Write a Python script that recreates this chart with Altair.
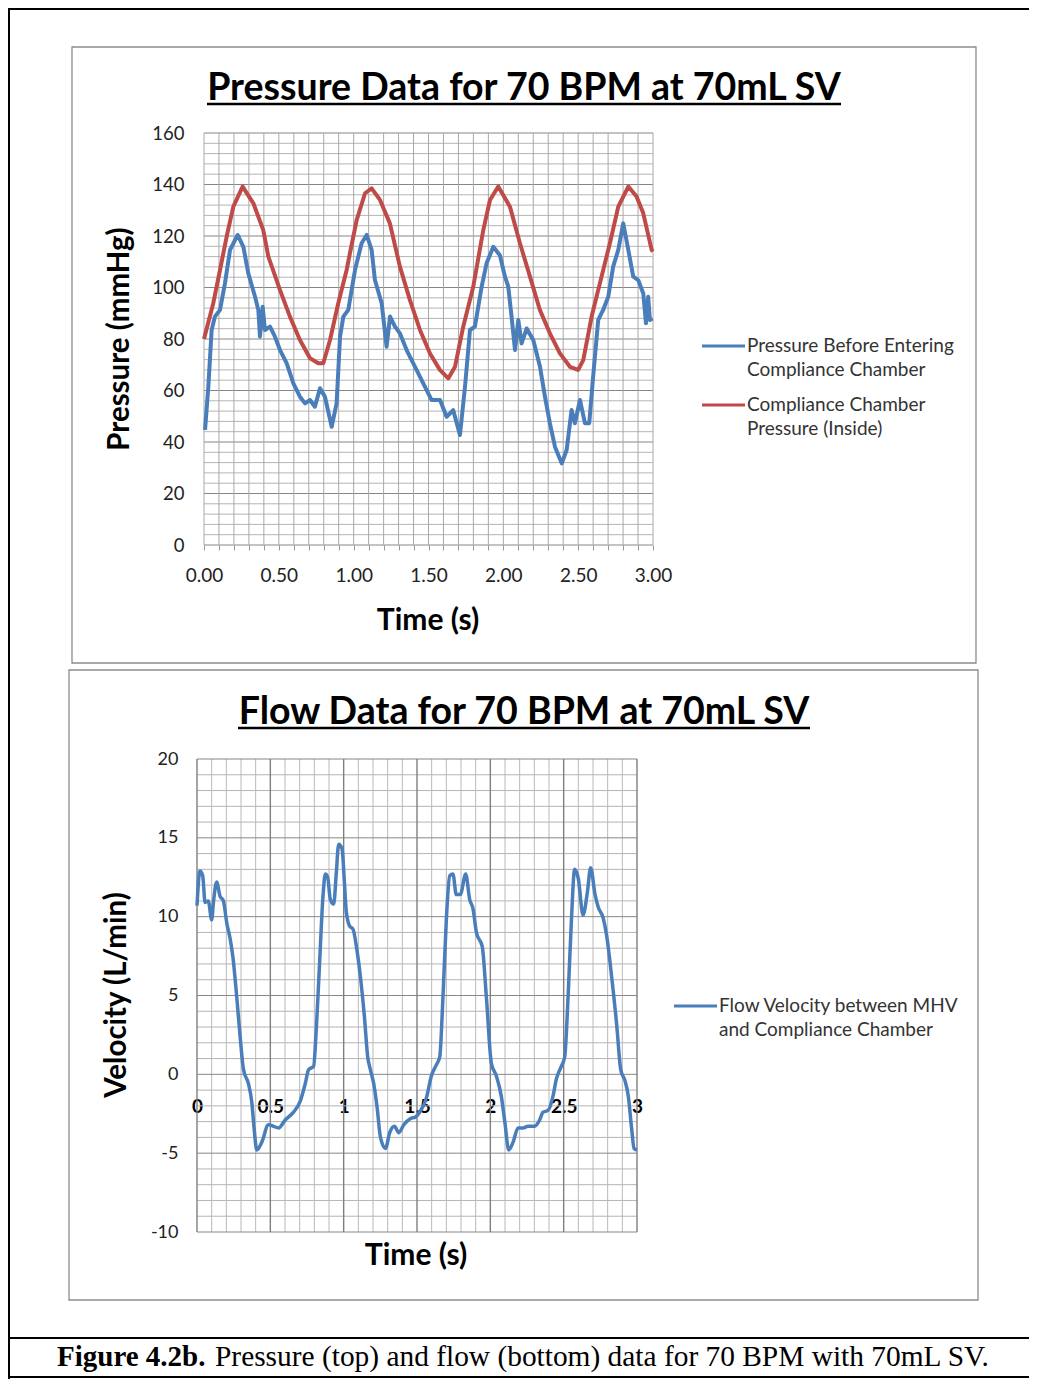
import altair as alt
import pandas as pd

W, H = 1021, 1371
FONT = "Lato"

# ---------------- data ----------------
blue_t = [0.007, 0.029, 0.051, 0.073, 0.107, 0.14, 0.174, 0.225, 0.263, 0.296, 0.341, 0.363, 0.374, 0.392,
          0.407, 0.441, 0.474, 0.508, 0.552, 0.597, 0.641, 0.675, 0.708, 0.741, 0.775, 0.808, 0.853, 0.886,
          0.909, 0.931, 0.964, 1.009, 1.053, 1.087, 1.12, 1.142, 1.187, 1.22, 1.243, 1.276, 1.309, 1.354,
          1.41, 1.465, 1.521, 1.577, 1.621, 1.665, 1.71, 1.744, 1.777, 1.81, 1.855, 1.888, 1.933, 1.977,
          2.011, 2.033, 2.055, 2.078, 2.1, 2.122, 2.156, 2.2, 2.245, 2.278, 2.311, 2.345, 2.39, 2.423,
          2.456, 2.478, 2.512, 2.545, 2.574, 2.6, 2.634, 2.667, 2.701, 2.734, 2.768, 2.801, 2.835, 2.868,
          2.901, 2.935, 2.953, 2.968, 2.979, 2.997]
blue_p = [44.7, 61.5, 83.5, 88.7, 91.3, 101.6, 114.6, 120.4, 115.8, 105.5, 96.4, 91.3, 80.9, 92.5,
          83.5, 84.8, 80.9, 75.7, 70.6, 62.8, 57.6, 55.0, 56.3, 53.7, 60.9, 57.6, 45.9, 55.0,
          80.9, 88.7, 91.3, 106.8, 117.2, 120.4, 114.6, 102.9, 93.9, 77.0, 88.7, 84.8, 82.2, 75.7,
          69.2, 62.8, 56.3, 56.3, 49.8, 52.4, 42.7, 61.5, 83.5, 84.8, 100.3, 109.4, 115.8, 112.5,
          104.2, 100.3, 88.7, 75.7, 87.4, 78.3, 84.1, 79.6, 69.2, 57.6, 47.3, 38.2, 31.7, 36.9,
          52.4, 47.3, 56.3, 47.3, 47.3, 65.4, 87.4, 91.3, 96.4, 108.1, 114.6, 124.9, 114.6, 104.2,
          102.9, 97.7, 86.1, 96.4, 87.4, 88.0]

red_t = [0.0, 0.062, 0.107, 0.151, 0.196, 0.258, 0.33, 0.396, 0.43, 0.508, 0.574, 0.641, 0.708, 0.764,
         0.797, 0.842, 0.897, 0.953, 0.975, 1.02, 1.076, 1.12, 1.176, 1.242, 1.309, 1.376, 1.443, 1.51,
         1.576, 1.632, 1.677, 1.732, 1.799, 1.866, 1.911, 1.966, 2.044, 2.111, 2.178, 2.244, 2.311, 2.378,
         2.445, 2.5, 2.534, 2.59, 2.645, 2.712, 2.768, 2.835, 2.89, 2.935, 2.991, 3.0]
red_p = [80.0, 93.9, 106.8, 119.7, 131.4, 139.2, 132.7, 122.3, 112.0, 99.0, 88.7, 79.6, 72.5, 70.6,
         70.6, 79.6, 93.9, 106.8, 113.3, 126.2, 136.6, 138.5, 134.0, 124.9, 108.1, 95.1, 83.5, 74.4,
         68.0, 64.7, 69.2, 84.8, 100.3, 122.3, 134.0, 139.2, 131.4, 117.2, 104.2, 91.3, 82.2, 74.4,
         69.2, 68.0, 71.8, 88.7, 101.6, 117.2, 131.4, 139.2, 135.3, 128.8, 114.6, 114.0]

flow_t = [0.0, 0.02, 0.039, 0.055, 0.077, 0.1, 0.112, 0.134, 0.157, 0.18, 0.203, 0.226, 0.244, 0.271,
          0.294, 0.317, 0.351, 0.374, 0.39, 0.408, 0.442, 0.487, 0.522, 0.556, 0.601, 0.658, 0.704, 0.738,
          0.761, 0.795, 0.813, 0.836, 0.859, 0.875, 0.891, 0.909, 0.932, 0.95, 0.966, 0.989, 1.005, 1.018,
          1.041, 1.064, 1.087, 1.114, 1.141, 1.164, 1.182, 1.205, 1.228, 1.251, 1.285, 1.314, 1.346, 1.376,
          1.41, 1.456, 1.49, 1.518, 1.564, 1.598, 1.632, 1.655, 1.677, 1.7, 1.723, 1.745, 1.768, 1.795,
          1.832, 1.859, 1.882, 1.905, 1.945, 1.973, 2.007, 2.041, 2.075, 2.1, 2.125, 2.155, 2.189, 2.223,
          2.257, 2.302, 2.336, 2.359, 2.393, 2.427, 2.45, 2.484, 2.507, 2.53, 2.552, 2.575, 2.6, 2.632,
          2.661, 2.684, 2.714, 2.736, 2.77, 2.793, 2.827, 2.861, 2.889, 2.918, 2.941, 2.964, 2.98, 3.0]
flow_v = [10.7, 12.9, 12.6, 10.9, 11.0, 9.8, 10.9, 12.2, 11.3, 11.0, 9.6, 8.6, 7.5, 4.9,
          2.4, 0.3, -0.6, -1.8, -3.5, -4.8, -4.3, -3.2, -3.3, -3.4, -2.9, -2.4, -1.7, -0.6,
          0.3, 0.5, 2.8, 7.1, 11.3, 12.7, 12.5, 11.1, 10.8, 12.8, 14.6, 14.3, 12.2, 10.3,
          9.4, 9.2, 8.1, 6.2, 3.7, 1.1, 0.3, -0.6, -2.1, -4.0, -4.7, -3.7, -3.3, -3.7,
          -3.2, -2.8, -2.7, -2.4, -1.5, -0.1, 0.6, 1.1, 4.9, 9.8, 12.6, 12.7, 11.4, 11.4,
          12.7, 11.1, 10.5, 9.0, 8.1, 4.9, 0.7, -0.1, -1.4, -3.1, -4.8, -4.3, -3.4, -3.4,
          -3.3, -3.3, -2.9, -2.4, -2.3, -1.4, -0.3, 0.5, 1.1, 4.9, 9.6, 13.0, 12.4, 10.1,
          11.5, 13.1, 11.4, 10.6, 9.9, 8.8, 6.2, 3.2, 0.3, -0.4, -1.4, -3.5, -4.7, -4.8]

series_blue = "Pressure Before Entering Compliance Chamber"
series_red = "Compliance Chamber Pressure (Inside)"
series_flow = "Flow Velocity between MHV and Compliance Chamber"
legend_blue = ["Pressure Before Entering", "Compliance Chamber"]
legend_red = ["Compliance Chamber", "Pressure (Inside)"]
legend_flow = ["Flow Velocity between MHV", "and Compliance Chamber"]

p_yticks = [0, 20, 40, 60, 80, 100, 120, 140, 160]
p_xticks = [0.0, 0.5, 1.0, 1.5, 2.0, 2.5, 3.0]
f_yticks = [-10, -5, 0, 5, 10, 15, 20]
f_xticks = [0, 0.5, 1, 1.5, 2, 2.5, 3]
x_minor = [round(i * 0.1, 1) for i in range(31)]
p_y_minor = list(range(0, 161, 4))
f_y_minor = list(range(-10, 21, 1))

BLUE = "#4a7ebb"
RED = "#be4b48"
MINOR = "#b4b4b4"
MAJOR = "#868686"

# ---------------- geometry (pixel ranges inside the view) ----------------
P_X = [196, 645]
P_Y = [537, 125]
F_X = [189, 629]
F_Y = [1224, 751]

px_scale = alt.Scale(domain=[0, 3], range=P_X, nice=False, zero=False)
py_scale = alt.Scale(domain=[0, 160], range=P_Y, nice=False, zero=False)
fx_scale = alt.Scale(domain=[0, 3], range=F_X, nice=False, zero=False)
fy_scale = alt.Scale(domain=[-10, 20], range=F_Y, nice=False, zero=False)

px_axis = alt.Axis(orient="bottom", offset=P_Y[0] - H, values=x_minor, title="",
                   labelExpr="round(datum.value*10) % 5 === 0 ? format(datum.value, '.2f') : ''",
                   ticks=True, tickSize=5, tickColor="#9a9a9a", domain=False, grid=False,
                   labelPadding=25, labelBaseline="middle", labelFont=FONT, labelFontSize=19,
                   labelColor="#222222", labelFlush=False, labelOverlap=False, labelBound=False)
py_axis = alt.Axis(orient="left", offset=-P_X[0], values=p_yticks, title="", ticks=False,
                   domain=False, grid=False, labelPadding=20, labelFont=FONT, labelFontSize=18.5,
                   labelColor="#222222", labelFlush=False, labelOverlap=False)
fx_axis = alt.Axis(orient="bottom", offset=1066 - H, values=f_xticks, format="~g", title="",
                   ticks=False, domain=False, grid=False, labelPadding=32, labelBaseline="middle",
                   labelFont=FONT, labelFontSize=19, labelFontWeight="bold", labelColor="#000000",
                   labelFlush=False, labelOverlap=False, labelBound=False)
fy_axis = alt.Axis(orient="left", offset=-F_X[0], values=f_yticks, title="", ticks=False,
                   domain=False, grid=False, labelPadding=19, labelFont=FONT, labelFontSize=18,
                   labelExpr="replace(datum.label, '\u2212', '-')",
                   labelColor="#222222", labelFlush=False, labelOverlap=False)


def hgrid(vals, xr, yscale, yaxis, color, sw=1.0):
    return alt.Chart(pd.DataFrame({"g": vals})).mark_rule(color=color, strokeWidth=sw).encode(
        y=alt.Y("g:Q", scale=yscale, axis=yaxis), x=alt.value(xr[0]), x2=alt.value(xr[1]))


def vgrid(vals, yr, xscale, xaxis, color, sw=1.0):
    return alt.Chart(pd.DataFrame({"g": vals})).mark_rule(color=color, strokeWidth=sw).encode(
        x=alt.X("g:Q", scale=xscale, axis=xaxis), y=alt.value(yr[1]), y2=alt.value(yr[0]))


def txt(s, x, y, size, weight="normal", color="#000000", align="center", baseline="middle",
        angle=0, font=FONT):
    return alt.Chart(pd.DataFrame({"s": [s]})).mark_text(
        font=font, fontSize=size, fontWeight=weight, color=color, align=align,
        baseline=baseline, angle=angle).encode(text="s:N", x=alt.value(x), y=alt.value(y))


def hline(x1, x2, y, color, sw):
    return alt.Chart(pd.DataFrame({"a": [0]})).mark_rule(color=color, strokeWidth=sw).encode(
        x=alt.value(x1), x2=alt.value(x2), y=alt.value(y))


def vline(x, y1, y2, color, sw):
    return alt.Chart(pd.DataFrame({"a": [0]})).mark_rule(color=color, strokeWidth=sw).encode(
        x=alt.value(x), y=alt.value(y1), y2=alt.value(y2))


def box(x1, x2, y1, y2, color):
    return alt.Chart(pd.DataFrame({"a": [0]})).mark_rect(
        fill="transparent", stroke=color, strokeWidth=1.3).encode(
        x=alt.value(x1), x2=alt.value(x2), y=alt.value(y1), y2=alt.value(y2))


# ---------------- pressure panel ----------------
p_minor_y = [v for v in p_y_minor if v % 20 != 0]
p_major_y = [v for v in p_y_minor if v % 20 == 0]
blue_df = pd.DataFrame({"t": blue_t, "p": blue_p, "series": series_blue})
red_df = pd.DataFrame({"t": red_t, "p": red_p, "series": series_red})

pressure = alt.layer(
    hgrid(p_minor_y, P_X, py_scale, py_axis, MINOR),
    hgrid(p_major_y, P_X, py_scale, py_axis, MAJOR),
    vgrid(x_minor, P_Y, px_scale, px_axis, "#a8a8a8"),
    alt.Chart(blue_df).mark_line(color=BLUE, strokeWidth=4, strokeJoin="round").encode(
        x=alt.X("t:Q", scale=px_scale, axis=px_axis),
        y=alt.Y("p:Q", scale=py_scale, axis=py_axis)),
    alt.Chart(red_df).mark_line(color=RED, strokeWidth=4, strokeJoin="round").encode(
        x=alt.X("t:Q", scale=px_scale, axis=px_axis),
        y=alt.Y("p:Q", scale=py_scale, axis=py_axis)),
)

# ---------------- flow panel ----------------
f_minor_y = [v for v in f_y_minor if v % 5 != 0]
f_major_y = [v for v in f_y_minor if v % 5 == 0]
f_minor_x = [v for v in x_minor if round(v * 10) % 5 != 0]
flow_df = pd.DataFrame({"t": flow_t, "v": flow_v, "series": series_flow})

flow = alt.layer(
    hgrid(f_minor_y, F_X, fy_scale, fy_axis, MINOR),
    vgrid(f_minor_x, F_Y, fx_scale, fx_axis, "#b8b8b8"),
    hgrid(f_major_y, F_X, fy_scale, fy_axis, MAJOR),
    vgrid(f_xticks, F_Y, fx_scale, fx_axis, "#7f7f7f", 1.4),
    alt.Chart(flow_df).mark_line(color=BLUE, strokeWidth=3.5, interpolate="monotone").encode(
        x=alt.X("t:Q", scale=fx_scale, axis=fx_axis),
        y=alt.Y("v:Q", scale=fy_scale, axis=fy_axis)),
)

# ---------------- decorations / text ----------------
deco = [
    # figure frame
    vline(1, 0, H, "#000000", 2),
    hline(0, W, 1, "#000000", 2),
    hline(0, W, 1330, "#000000", 2),
    hline(0, W, 1369, "#000000", 2),
    # chart area boxes
    box(64, 968, 39, 655, "#8c8c8c"),
    box(61, 970, 662, 1292, "#8c8c8c"),
    # titles
    txt("Pressure Data for 70 BPM at 70mL SV", 516, 92, 37.5, "bold", baseline="alphabetic"),
    hline(199, 833, 96, "#000000", 2.5),
    txt("Flow Data for 70 BPM at 70mL SV", 516, 716, 37.5, "bold", baseline="alphabetic"),
    hline(230, 802, 720, "#000000", 2.5),
    # axis titles
    txt("Pressure (mmHg)", 112, 331, 29.5, "bold", angle=270),
    txt("Time (s)", 420, 613, 30, "bold"),
    txt("Velocity (L/min)", 109, 987, 29.5, "bold", angle=270),
    txt("Time (s)", 408, 1248, 30, "bold"),
    # legends
    hline(694, 737, 338, BLUE, 3),
    txt(legend_blue[0], 739, 338, 19, color="#333333", align="left"),
    txt(legend_blue[1], 739, 362, 19, color="#333333", align="left"),
    hline(694, 737, 397, RED, 3),
    txt(legend_red[0], 739, 397, 19, color="#333333", align="left"),
    txt(legend_red[1], 739, 421, 19, color="#333333", align="left"),
    hline(666, 709, 998, BLUE, 3),
    txt(legend_flow[0], 711, 998, 19, color="#333333", align="left"),
    txt(legend_flow[1], 711, 1022, 19, color="#333333", align="left"),
    # caption
    txt("Figure 4.2b.", 49, 1349, 29, "bold", align="left", font="Liberation Serif"),
    txt("Pressure (top) and flow (bottom) data for 70 BPM with 70mL SV.", 207, 1349, 29.4,
        align="left", font="Liberation Serif"),
]

chart = alt.layer(pressure, flow, *deco).resolve_scale(
    x="independent", y="independent"
).properties(
    width=W, height=H, padding=0, autosize=alt.AutoSizeParams(type="none"),
    background="white"
).configure_view(strokeWidth=0)

chart.save("out.html", embed_options={"renderer": "svg", "actions": False})
